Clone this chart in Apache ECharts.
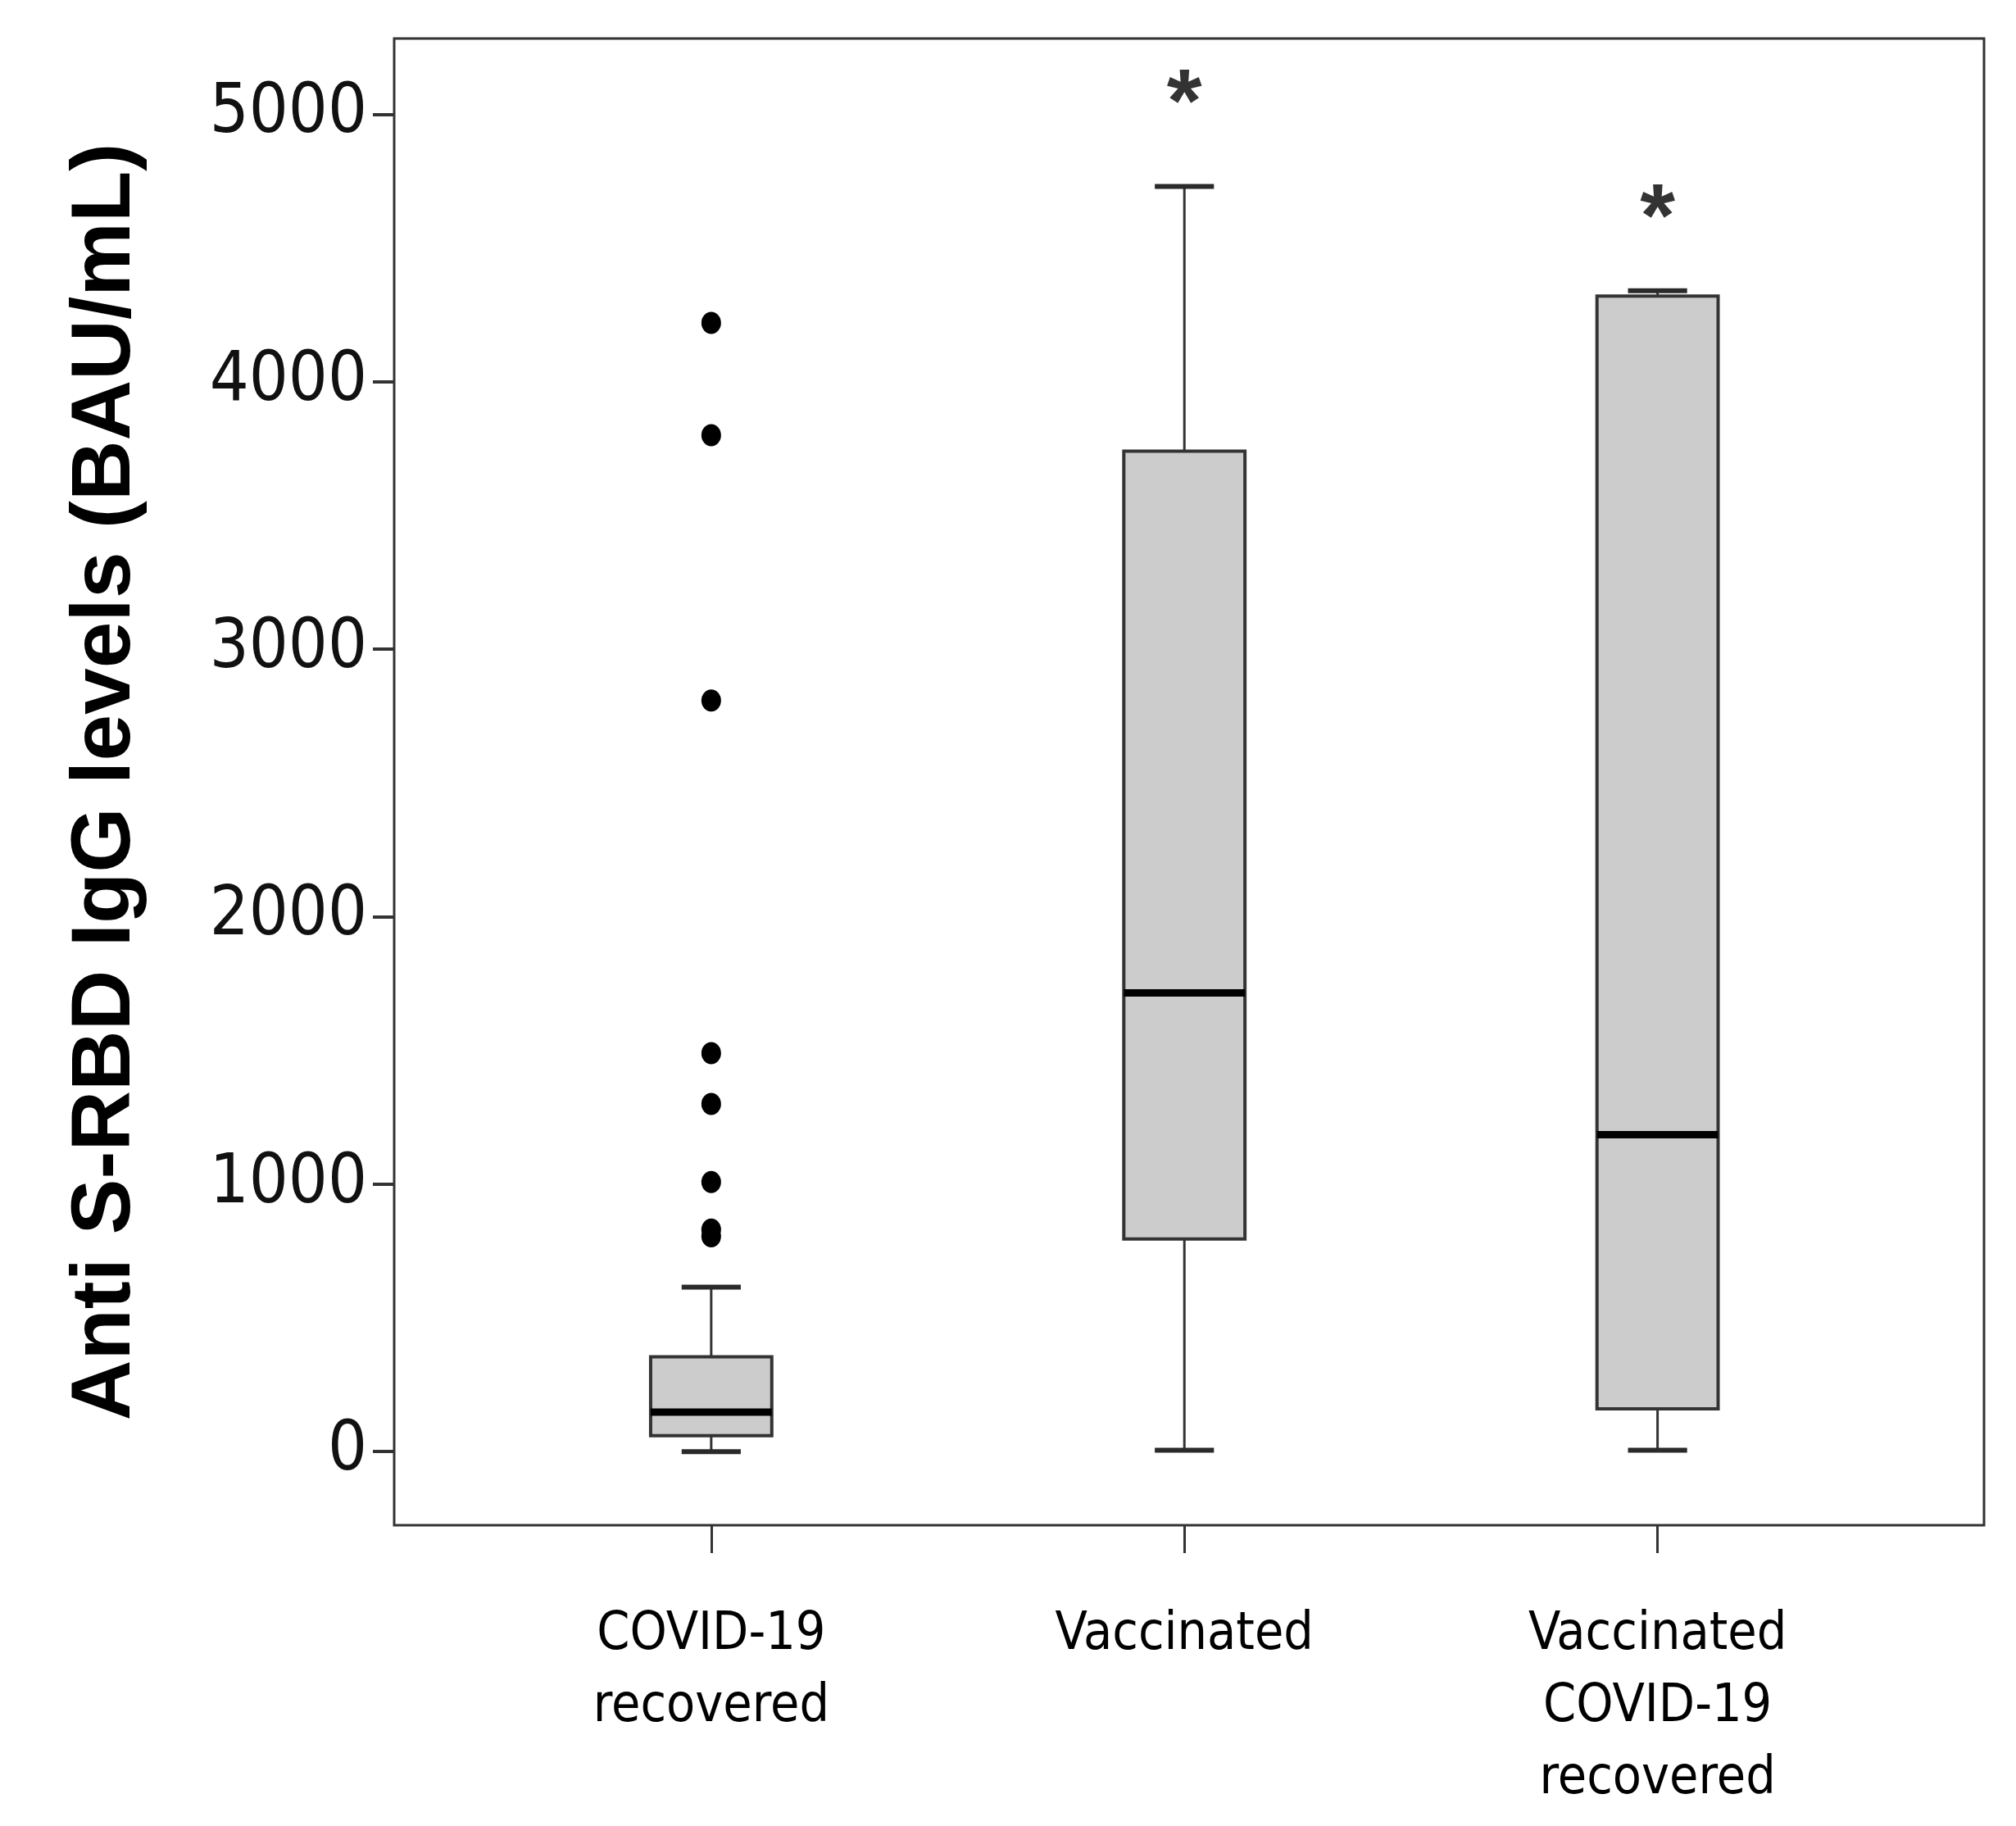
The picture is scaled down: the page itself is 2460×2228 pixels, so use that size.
<!DOCTYPE html>
<html lang="en">
<head>
    <meta charset="UTF-8">
    <title>Anti S-RBD IgG levels</title>
    <script src="https://cdn.jsdelivr.net/npm/echarts@6/dist/echarts.min.js"></script>
    <style>
        html, body { margin: 0; padding: 0; background: #fff; }
    </style>
</head>
<body>
<div id="chart" style="width: 2460px;height: 2228px;"></div>

<script type="text/javascript">
    // groups on the x axis (positions 1..3 on a value axis)
    var groups = ['COVID-19\nrecovered', 'Vaccinated', 'Vaccinated\nCOVID-19\nrecovered'];
    var groupPos = [1, 2, 3];

    // box statistics
    var mins = [0, 5, 5];
    var q1s = [60, 795, 160];
    var medians = [148, 1715, 1185];
    var q3s = [355, 3740, 4320];
    var maxs = [615, 4730, 4340];

    // outliers (all in the first group)
    var outlierGroup = [1, 1, 1, 1, 1, 1, 1, 1];
    var outlierValues = [4220, 3800, 2808, 1490, 1300, 1008, 830, 805];

    // significance marks
    var sigGroup = [2, 3];
    var sigValues = [5097, 4667];
    var sigMarks = ['*', '*'];

    var yTicks = [0, 1000, 2000, 3000, 4000, 5000];

    var BOX_W = 0.256;   // box width in x units
    var CAP_W = 0.125;   // whisker cap width in x units
    var narrow = "'Liberation Sans Narrow', 'DejaVu Sans Condensed', sans-serif";

    var boxData = groupPos.map(function (g, i) {
        return [g, mins[i], q1s[i], medians[i], q3s[i], maxs[i]];
    });
    var outlierData = outlierGroup.map(function (g, i) {
        return [g, outlierValues[i]];
    });
    var sigData = sigGroup.map(function (g, i) {
        return {value: [g, sigValues[i]], mark: sigMarks[i]};
    });

    function renderBox(params, api) {
        var x = api.value(0);
        var lo = api.coord([x, api.value(1)]);
        var q1 = api.coord([x, api.value(2)]);
        var md = api.coord([x, api.value(3)]);
        var q3 = api.coord([x, api.value(4)]);
        var hi = api.coord([x, api.value(5)]);
        var unit = api.size([1, 0])[0];
        var bw = unit * BOX_W, cw = unit * CAP_W;
        var cx = md[0];
        var thin = {stroke: '#333', lineWidth: 3};
        var cap = {stroke: '#2a2a2a', lineWidth: 6};
        return {
            type: 'group',
            children: [
                {type: 'line', shape: {x1: cx, y1: hi[1], x2: cx, y2: q3[1]}, style: thin},
                {type: 'line', shape: {x1: cx, y1: q1[1], x2: cx, y2: lo[1]}, style: thin},
                {type: 'line', shape: {x1: cx - cw / 2, y1: hi[1], x2: cx + cw / 2, y2: hi[1]}, style: cap},
                {type: 'line', shape: {x1: cx - cw / 2, y1: lo[1], x2: cx + cw / 2, y2: lo[1]}, style: cap},
                {
                    type: 'rect',
                    shape: {x: cx - bw / 2, y: q3[1], width: bw, height: q1[1] - q3[1]},
                    style: {fill: '#cccccc', stroke: '#333', lineWidth: 4}
                },
                {
                    type: 'line',
                    shape: {x1: cx - bw / 2, y1: md[1], x2: cx + bw / 2, y2: md[1]},
                    style: {stroke: '#000', lineWidth: 9}
                }
            ]
        };
    }

    var myChart = echarts.init(document.getElementById('chart'));
    var option = {
        backgroundColor: '#fff',
        animation: false,
        grid: {
            left: 481,
            right: 39,
            top: 47,
            bottom: 367,
            show: true,
            borderColor: '#333',
            borderWidth: 3,
            backgroundColor: 'transparent'
        },
        xAxis: {
            type: 'value',
            min: 0.33,
            max: 3.69,
            axisLine: {show: false, onZero: false},
            splitLine: {show: false},
            axisTick: {
                show: true,
                customValues: groupPos,
                length: 34,
                lineStyle: {color: '#333', width: 3}
            },
            axisLabel: {
                customValues: groupPos,
                margin: 90,
                fontSize: 64,
                lineHeight: 88,
                fontFamily: narrow,
                color: '#000',
                formatter: function (v) {
                    return groups[Math.round(v) - 1];
                }
            }
        },
        yAxis: {
            type: 'value',
            min: -275,
            max: 5283,
            name: 'Anti S-RBD IgG levels (BAU/mL)',
            nameLocation: 'middle',
            nameRotate: 90,
            nameGap: 300,
            nameTextStyle: {
                fontSize: 102,
                fontWeight: 'bold',
                fontFamily: "'Liberation Sans', Arial, sans-serif",
                color: '#000'
            },
            axisLine: {show: false, onZero: false},
            splitLine: {show: false},
            axisTick: {
                show: true,
                customValues: yTicks,
                length: 26,
                lineStyle: {color: '#333', width: 4}
            },
            axisLabel: {
                customValues: yTicks,
                margin: 33,
                fontSize: 84,
                fontFamily: narrow,
                color: '#111',
                formatter: function (v) { return String(v); }
            }
        },
        series: [
            {
                type: 'custom',
                renderItem: renderBox,
                data: boxData,
                z: 2
            },
            {
                type: 'scatter',
                data: outlierData,
                symbol: 'circle',
                symbolSize: [24, 27],
                itemStyle: {color: '#000', opacity: 1},
                z: 3
            },
            {
                type: 'scatter',
                data: sigData,
                symbolSize: 0,
                label: {
                    show: true,
                    position: 'inside',
                    formatter: function (p) { return p.data.mark; },
                    fontSize: 110,
                    fontWeight: 'bold',
                    fontFamily: "'Liberation Sans', Arial, sans-serif",
                    color: '#000',
                    offset: [0, 22]
                },
                z: 3
            }
        ]
    };
    myChart.setOption(option);
</script>
</body>
</html>
